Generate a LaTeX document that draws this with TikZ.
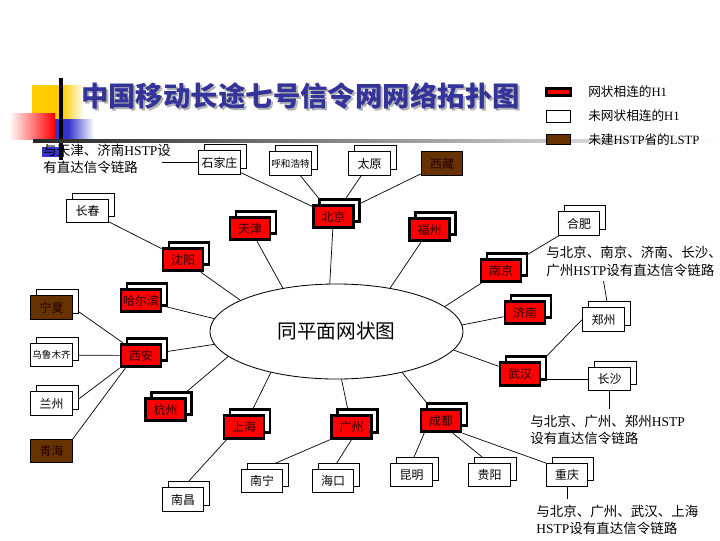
\documentclass[tikz,border=0pt]{standalone}
\usepackage{fontspec}
\setmainfont{Noto Sans CJK SC}
\newfontfamily\latn{Liberation Serif}
\usepackage{tikz}
\usetikzlibrary{shapes.geometric}
\usetikzlibrary{shadows}
\definecolor{hubred}{HTML}{FF0000}
\definecolor{lstpbrown}{HTML}{663300}
\definecolor{ttlblue}{HTML}{333399}
\definecolor{yel}{HTML}{FFCC00}
\definecolor{blu}{HTML}{3333CC}
\definecolor{labelink}{RGB}{40,0,0}
\pgfdeclarelayer{background}
\pgfsetlayers{background,main}

\begin{document}
\begin{tikzpicture}[x=0.025cm,y=-0.025cm]
    \tikzstyle{city}=[rectangle,inner sep=0pt,text=black,font=\fontsize{8.5}{10}\selectfont]
    \tikzstyle{thickback}=[general shadow={shadow xshift=0.15cm,shadow yshift=0.15cm,fill=white,draw=black,line width=2.1pt}]
    \tikzstyle{thinback}=[general shadow={shadow xshift=0.15cm,shadow yshift=0.15cm,fill=white,draw=black,line width=0.6pt}]
    \tikzstyle{hub}=[city,fill=hubred,draw=black,text=labelink,line width=2.1pt,minimum width=1cm,minimum height=0.56cm,thickback]
    \tikzstyle{nonhub}=[city,fill=white,draw=black,line width=0.6pt,minimum width=1.04cm,minimum height=0.58cm,thinback]
    \tikzstyle{lstp}=[city,fill=lstpbrown,draw=black,text=labelink,line width=0.6pt,minimum width=1.04cm,minimum height=0.58cm]
    \tikzstyle{fourchar}=[font=\fontsize{6.8}{8}\selectfont]
    \tikzstyle{link}=[line width=0.5pt]
    \tikzstyle{note}=[align=left,inner sep=0pt,font=\fontsize{9.6}{12.4}\selectfont]
    \tikzstyle{legtext}=[anchor=west,inner sep=0pt,font=\fontsize{9}{10}\selectfont]
    \useasboundingbox (0,0) rectangle (720,540);
    \begin{pgfonlayer}{background}
      \fill[white] (0,0) rectangle (720,540);
    \end{pgfonlayer}
    % Corner decoration
    \fill[yel] (32,85) rectangle (62,120);
    \shade[left color=yel,right color=white] (62,85) rectangle (84,120);
    \shade[left color=white,right color=red] (9,113) rectangle (55,139);
    \fill[blu] (55,119) rectangle (68,140);
    \shade[left color=blu,right color=white] (68,119) rectangle (94,140);
    \fill[blu] (42,147) rectangle (64,157);
    \draw[line width=2.2pt] (61,78) -- (61,160);
    \shade[left color=black!85,middle color=black!30,right color=white] (33,139.5) rectangle (720,142.5);
    % Title
    \node[font=\fontsize{19.5}{22}\selectfont\bfseries,text=gray!60] (ttlsh) at (302.5,98) {中国移动长途七号信令网网络拓扑图};
    \node[font=\fontsize{19.5}{22}\selectfont\bfseries,text=ttlblue] (ttl) at (300.5,96) {中国移动长途七号信令网网络拓扑图};
    % Legend
    \node[rectangle,inner sep=0pt,fill=hubred,draw=black,line width=2.1pt,minimum width=0.6cm,minimum height=0.18cm] (lg1) at (558.5,92) {};
    \node[rectangle,inner sep=0pt,fill=white,draw=black,line width=0.6pt,minimum width=0.62cm,minimum height=0.3cm] (lg2) at (558.5,116) {};
    \node[rectangle,inner sep=0pt,fill=lstpbrown,draw=black,line width=0.6pt,minimum width=0.62cm,minimum height=0.27cm] (lg3) at (558.5,139.5) {};
    \node[legtext] (lt1) at (588,92) {网状相连的{\latn H1}};
    \node[legtext] (lt2) at (588,116) {未网状相连的{\latn H1}};
    \node[legtext] (lt3) at (588,139.5) {未建{\latn HSTP}省的{\latn LSTP}};
    % The mesh
    \node[ellipse,draw,line width=0.6pt,inner sep=0pt,minimum width=6.325cm,minimum height=2.375cm,font=\fontsize{14}{16}\selectfont] (ell) at (336.5,331.5) {同平面网状图};
    % Meshed H1
    \node[hub] (bj) at (333.5,216.5) {北京};
    \node[hub] (tj) at (250,228.5) {天津};
    \node[hub] (fz) at (429.5,229.5) {福州};
    \node[hub] (sy) at (183,259.5) {沈阳};
    \node[hub] (heb) at (141,300.5) {哈尔滨};
    \node[hub] (xa) at (141,355.5) {西安};
    \node[hub] (hz) at (165.5,409.5) {杭州};
    \node[hub] (sh) at (244,427) {上海};
    \node[hub] (gz) at (351.5,427) {广州};
    \node[hub] (cd) at (441,420.5) {成都};
    \node[hub] (wh) at (520,374) {武汉};
    \node[hub] (jn) at (525,312.5) {济南};
    \node[hub] (nj) at (501,270.5) {南京};
    % Other H1
    \node[nonhub] (shz) at (219.5,162.5) {石家庄};
    \node[nonhub,fourchar] (hhht) at (290.5,163.5) {呼和浩特};
    \node[nonhub] (ty) at (369.5,163.5) {太原};
    \node[nonhub] (cc) at (87.5,211) {长春};
    \node[nonhub,fourchar] (wlmq) at (51.5,355) {乌鲁木齐};
    \node[nonhub] (lz) at (51.5,403.5) {兰州};
    \node[nonhub] (hf) at (579,223.5) {合肥};
    \node[nonhub] (zz) at (603.5,319.5) {郑州};
    \node[nonhub] (cs) at (609.5,379) {长沙};
    \node[nonhub] (nc) at (183,499.5) {南昌};
    \node[nonhub] (nn) at (262,481) {南宁};
    \node[nonhub] (hk) at (333,481) {海口};
    \node[nonhub] (km) at (411.5,475) {昆明};
    \node[nonhub] (gy) at (489.5,475) {贵阳};
    \node[nonhub] (cq) at (567,475) {重庆};
    % LSTP
    \node[lstp] (xz) at (442,163.5) {西藏};
    \node[lstp,thinback] (nx) at (51.5,307.5) {宁夏};
    \node[lstp] (qh) at (51.5,451) {青海};
    % Notes
    \node[note,anchor=west] (nt1) at (43,159) {与天津、济南{\latn HSTP}设\\有直达信令链路};
    \node[note,anchor=west] (nt2) at (546,261.5) {与北京、南京、济南、长沙、\\广州{\latn HSTP}设有直达信令链路};
    \node[note,anchor=west] (nt3) at (530,430) {与北京、广州、郑州{\latn HSTP}\\设有直达信令链路};
    \node[note,anchor=west] (nt4) at (536,520) {与北京、广州、武汉、上海\\{\latn HSTP}设有直达信令链路};
    % Links
    \begin{pgfonlayer}{background}
      \draw[link] (shz) -- (bj);
      \draw[link] (hhht) -- (bj);
      \draw[link] (ty) -- (bj);
      \draw[link] (xz) -- (bj);
      \draw[link] (bj) -- (ell.98);
      \draw[link] (tj) -- (ell.141);
      \draw[link] (fz) -- (ell.39);
      \draw[link] (cc) -- (sy);
      \draw[link] (sy) -- (ell.162);
      \draw[link] (heb) -- (ell.174);
      \draw[link] (nx.east) -- (xa);
      \draw[link] (wlmq) -- (xa);
      \draw[link] (xa) -- (ell.186);
      \draw[link] (lz.east) -- (xa.south west);
      \draw[link] (qh.north east) -- (xa.219);
      \draw[link] (hz) -- (ell.193);
      \draw[link] (sh) -- (ell.212);
      \draw[link] (gz) -- (ell.276);
      \draw[link] (cd) -- (ell.328);
      \draw[link] (wh) -- (ell.351);
      \draw[link] (jn) -- (ell.3);
      \draw[link] (nj) -- (ell.13);
      \draw[link] (hf) -- (nj);
      \draw[link] (zz.west) -- (wh.north east);
      \draw[link] (cs.west) -- (cs.west -| wh.east);
      \draw[link] (sh.216) -- (nc.north);
      \draw[link] (gz.south west) -- (nn.north);
      \draw[link] (gz.south) -- (hk.north);
      \draw[link] (cd.217) -- (km.north);
      \draw[link] (cd.313) -- (gy.north);
      \draw[link] (cd.south east) -- (cq.north west);
      % note lines
      \draw[link] (shz.west) -- ++(-36,0);
      \draw[link] (zz.north) ++(3.5,-6) -- ([yshift=-3pt]nt2.south -| zz.north);
      \draw[link] (cs.south) -- ([yshift=4pt]cs.south |- nt3.north);
      \draw[link] (cq.south) -- ([yshift=4pt]cq.south |- nt4.north);
    \end{pgfonlayer}
\end{tikzpicture}
\end{document}
